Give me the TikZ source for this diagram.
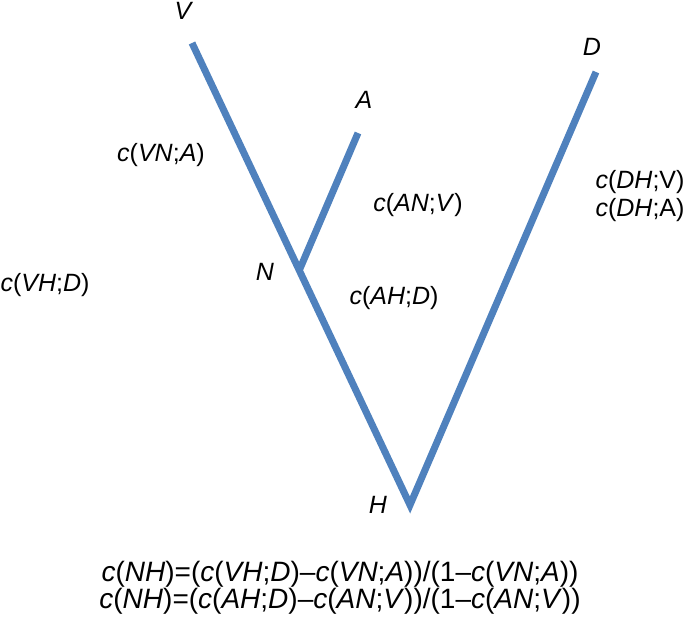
\documentclass[tikz,border=0pt]{standalone}
\usepackage{fontspec}
\setmainfont{Liberation Sans}
\usetikzlibrary{positioning}
\usetikzlibrary{calc}
\definecolor{branchblue}{RGB}{79,129,189}
\newcommand{\lt}[1]{\textit{#1}}
\tikzset{
        branch/.style={draw=branchblue, line width=7pt, line cap=butt},
        tiplabel/.style={font=\fontsize{25}{28}\selectfont\itshape, inner sep=0pt},
        clabel/.style={font=\fontsize{25}{28}\selectfont, inner sep=0pt, align=center},
        formulabox/.style={font=\fontsize{28}{23}\selectfont, inner sep=0pt, align=center},
}
\begin{document}
\begin{tikzpicture}[x=1pt, y=1pt]
      \useasboundingbox (0,0) rectangle (685,617);
      % tree points
      \coordinate (V) at (192,574);
      \coordinate (H) at (410,112);
      \coordinate (D) at (596,545);
      \coordinate (A) at (358,484);
      \coordinate (N) at ($(V)!0.492!(H)$);

      % branches
      \draw[branch] (V) -- (H) -- (D);
      \draw[branch] (N) -- (A);

      % tip names
      \node[tiplabel] (Vname) at (183,606) {V};
      \node[tiplabel] (Aname) at (364,517) {A};
      \node[tiplabel] (Dname) at (592,570) {D};
      \node[tiplabel] (Nname) at (265,345) {N};
      \node[tiplabel] (Hname) at (378,112) {H};

      % branch lengths
      \node[clabel] (cVN) at (161,462) {\lt{c}(\lt{VN};\lt{A})};
      \node[clabel] (cAN) at (418,412) {\lt{c}(\lt{AN};\lt{V})};
      \node[clabel] (cVH) at (45,332) {\lt{c}(\lt{VH};\lt{D})};
      \node[clabel] (cAH) at (394,319) {\lt{c}(\lt{AH};\lt{D})};
      \node[clabel] (cDH) at (640,421) {\lt{c}(\lt{DH};V)\\\lt{c}(\lt{DH};A)};

      % formula
      \node[formulabox] (formula) at (340,29) {\lt{c}(\lt{NH})=(\lt{c}(\lt{VH};\lt{D})--\lt{c}(\lt{VN};\lt{A}))/(1--\lt{c}(\lt{VN};\lt{A}))\\\lt{c}(\lt{NH})=(\lt{c}(\lt{AH};\lt{D})--\lt{c}(\lt{AN};\lt{V}))/(1--\lt{c}(\lt{AN};\lt{V}))};
\end{tikzpicture}
\end{document}
